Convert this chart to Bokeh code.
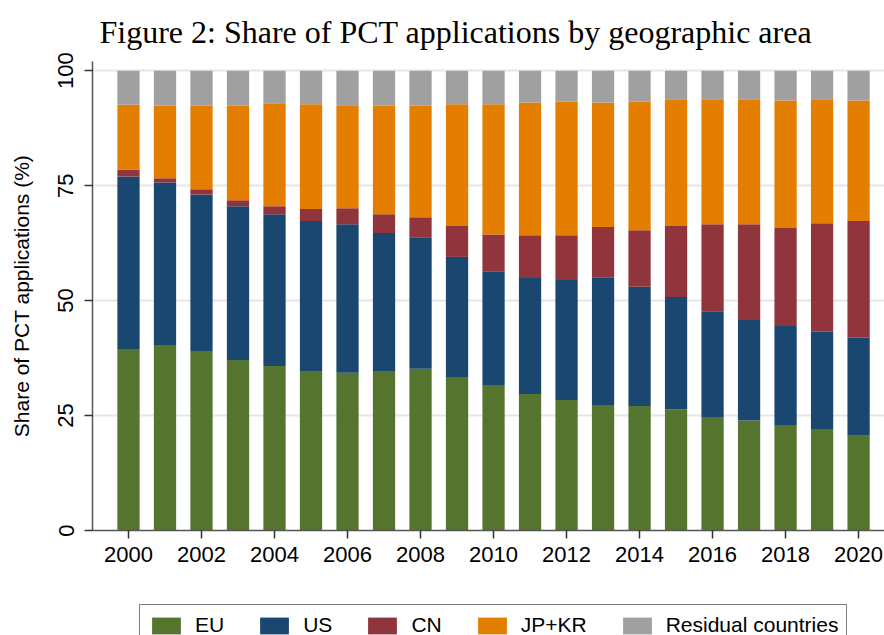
from bokeh.plotting import figure
from bokeh.models import ColumnDataSource, Range1d, Legend, LegendItem, FixedTicker
from bokeh.layouts import column
from bokeh.embed import file_html
from bokeh.resources import INLINE

years = list(range(2000, 2021))
eu = [39.3, 40.2, 38.9, 37.1, 35.8, 34.5, 34.3, 34.7, 35.2, 33.4, 31.5,
      29.7, 28.4, 27.3, 27.1, 26.3, 24.7, 23.9, 22.8, 22.1, 20.6]
us = [37.7, 35.5, 34.2, 33.4, 33.0, 32.8, 32.3, 30.0, 28.6, 26.1, 24.9,
      25.2, 26.1, 27.8, 25.9, 24.5, 23.0, 21.9, 21.7, 21.1, 21.3]
cn = [1.5, 0.9, 1.1, 1.3, 1.7, 2.6, 3.5, 4.1, 4.3, 6.7, 8.0,
      9.3, 9.7, 10.9, 12.3, 15.4, 18.9, 20.8, 21.3, 23.6, 25.4]
jpkr = [14.1, 15.8, 18.2, 20.6, 22.4, 22.8, 22.4, 23.6, 24.3, 26.5, 28.3,
        28.9, 29.1, 27.1, 28.0, 27.6, 27.2, 27.2, 27.7, 27.0, 26.2]
resid = [7.4, 7.6, 7.6, 7.6, 7.1, 7.3, 7.5, 7.6, 7.6, 7.3, 7.3,
         6.9, 6.7, 6.9, 6.7, 6.2, 6.2, 6.2, 6.5, 6.2, 6.5]

series = ["eu", "us", "cn", "jpkr", "resid"]
labels = ["EU", "US", "CN", "JP+KR", "Residual countries"]
colors = ["#55752f", "#1a476f", "#90353b", "#e37e00", "#a0a0a0"]
y_ticks = [0, 25, 50, 75, 100]
x_ticks = list(range(2000, 2021, 2))

source = ColumnDataSource(dict(year=years, eu=eu, us=us, cn=cn, jpkr=jpkr, resid=resid))

p = figure(width=884, height=602, output_backend="svg", toolbar_location=None,
           x_range=Range1d(1999.014, 2020.71), y_range=Range1d(0, 102.0),
           min_border_left=92, min_border_right=0, min_border_top=60, min_border_bottom=72,
           title="Figure 2: Share of PCT applications by geographic area")

p.title.text_font = "Liberation Serif"
p.title.text_font_size = "32px"
p.title.text_font_style = "normal"
p.title.align = "left"
p.title.offset = 7
p.title.standoff = 23
p.title.text_color = "black"

p.vbar_stack(series, x="year", width=0.61, color=colors, line_color=None, source=source)

p.outline_line_color = None
p.xgrid.grid_line_color = None
p.ygrid.grid_line_color = "#e6e6e6"
p.ygrid.grid_line_width = 2
p.ygrid.ticker = FixedTicker(ticks=y_ticks)

p.yaxis.ticker = FixedTicker(ticks=y_ticks)
p.xaxis.ticker = FixedTicker(ticks=x_ticks)
for ax in (p.xaxis[0], p.yaxis[0]):
    ax.axis_line_color = "#555555"
    ax.axis_line_width = 1.5
    ax.major_tick_line_color = "#333333"
    ax.major_tick_line_width = 1.5
    ax.major_tick_out = 8
    ax.major_tick_in = 0
    ax.minor_tick_line_color = None
    ax.major_label_text_font = "Liberation Sans"
    ax.major_label_text_font_size = "22px"
    ax.major_label_text_color = "black"

p.yaxis.major_label_orientation = "vertical"
p.yaxis.axis_label = "Share of PCT applications (%)"
p.yaxis.axis_label_text_font = "Liberation Sans"
p.yaxis.axis_label_text_font_size = "21px"
p.yaxis.axis_label_text_font_style = "normal"
p.yaxis.axis_label_text_color = "black"
p.yaxis.axis_label_standoff = 23
p.yaxis.major_label_standoff = 11
p.xaxis.major_label_standoff = 8

# legend strip below the chart (its bars lie outside this strip's range, only swatches show)
p2 = figure(width=884, height=40, output_backend="svg", toolbar_location=None,
            x_range=Range1d(0, 1), y_range=Range1d(0, 1),
            x_axis_type=None, y_axis_type=None,
            min_border_left=92, min_border_right=0, min_border_top=0, min_border_bottom=0)
p2.outline_line_color = None
p2.grid.visible = False
legend_renderers = p2.vbar_stack(series, x="year", width=0.61, color=colors, line_color=None, source=source)

items = [LegendItem(label=lab, renderers=[r]) for lab, r in zip(labels, legend_renderers)]
legend = Legend(items=items, orientation="horizontal", location=(47, -4),
                glyph_width=36, glyph_height=21, label_standoff=11, spacing=32,
                padding=8, margin=0, border_line_color="black", border_line_width=1,
                background_fill_color="white", background_fill_alpha=1.0,
                label_text_font="Liberation Sans", label_text_font_size="21px",
                label_text_color="black")
p2.add_layout(legend, "center")

layout = column(p, p2, spacing=0)
open("out.html", "w").write(file_html(layout, INLINE))
